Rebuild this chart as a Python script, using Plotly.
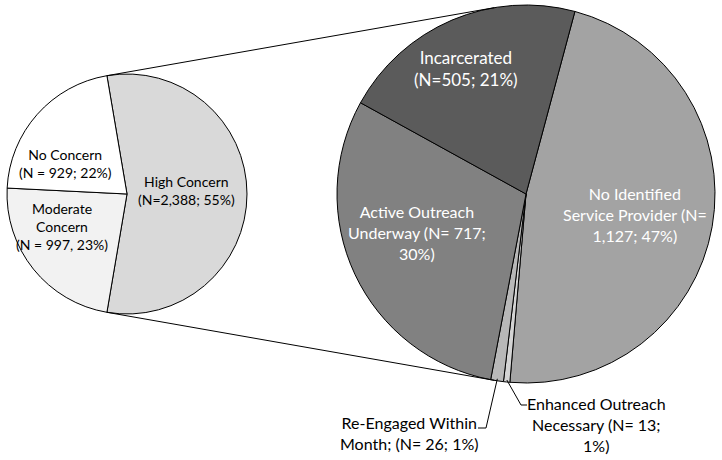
import math
import plotly.graph_objects as go

W, H = 722, 460

# ---- data ----
left_labels = ["High Concern", "Moderate Concern", "No Concern"]
left_values = [2388, 997, 929]
left_text = ["High Concern<br>(N=2,388; 55%)",
             "Moderate<br>Concern<br>(N = 997, 23%)",
             "No Concern<br>(N = 929; 22%)"]
left_colors = ["#d9d9d9", "#f2f2f2", "#ffffff"]

right_labels = ["No Identified Service Provider", "Enhanced Outreach Necessary",
                "Re-Engaged Within Month", "Active Outreach Underway", "Incarcerated"]
right_values = [1127, 13, 26, 717, 505]
right_text = ["No Identified<br>Service Provider (N=<br>1,127; 47%)",
              "Enhanced Outreach<br>Necessary (N= 13;<br>1%)",
              "Re-Engaged Within<br>Month; (N= 26; 1%)",
              "Active Outreach<br>Underway (N= 717;<br>30%)",
              "Incarcerated<br>(N=505; 21%)"]
right_colors = ["#a3a3a3", "#d4d4d4", "#b8b8b8", "#818181", "#5b5b5b"]
right_rotation = 15

FONT = "Lato"

# ---- geometry (pixels) ----
L_CX, L_CY, L_R = 127, 194, 120
R_CX, R_CY, R_R = 526, 194, 189


def dom(cx, cy, r):
    return dict(x=[(cx - r) / W, (cx + r) / W], y=[1 - (cy + r) / H, 1 - (cy - r) / H])


def pt(cx, cy, r, ang):
    a = math.radians(ang)
    return (cx + r * math.sin(a)) / W, 1 - (cy - r * math.cos(a)) / H


ltot = sum(left_values)
high_span = 360 * left_values[0] / ltot
left_rotation = 90 - high_span / 2

fig = go.Figure()
fig.add_trace(go.Pie(labels=left_labels, values=left_values, sort=False,
                     direction="clockwise", rotation=left_rotation,
                     marker=dict(colors=left_colors, line=dict(color="black", width=1)),
                     textinfo="none", hoverinfo="label+value", showlegend=False,
                     domain=dom(L_CX, L_CY, L_R)))
fig.add_trace(go.Pie(labels=right_labels, values=right_values, sort=False,
                     direction="clockwise", rotation=right_rotation,
                     marker=dict(colors=right_colors, line=dict(color="black", width=1)),
                     textinfo="none", hoverinfo="label+value", showlegend=False,
                     domain=dom(R_CX, R_CY, R_R)))

shapes = []
# connector lines between pies at the edges of the "High Concern" slice
for ang in (left_rotation, left_rotation + high_span):
    x0, y0 = pt(L_CX, L_CY, L_R, ang)
    x1, y1 = pt(R_CX, R_CY, R_R, ang)
    shapes.append(dict(type="line", xref="paper", yref="paper", x0=x0, y0=y0, x1=x1, y1=y1,
                       line=dict(color="black", width=1)))

# leader lines for the small slices
rtot = sum(right_values)
starts = []
acc = right_rotation
for v in right_values:
    starts.append(acc)
    acc += 360 * v / rtot
mid_enh = starts[1] + 180 * right_values[1] / rtot
mid_re = starts[2] + 180 * right_values[2] / rtot
ex, ey = pt(R_CX, R_CY, R_R - 2, mid_enh)
rx, ry = pt(R_CX, R_CY, R_R - 2, mid_re)
shapes.append(dict(type="path", xref="paper", yref="paper",
                   path=f"M {rx} {ry} L {486/W} {1-428/H} L {478/W} {1-428/H}",
                   line=dict(color="black", width=1)))
shapes.append(dict(type="path", xref="paper", yref="paper",
                   path=f"M {ex} {ey} L {521/W} {1-405/H} L {527/W} {1-405/H}",
                   line=dict(color="black", width=1)))

# label positions (pixels)
left_pos = [(186, 190), (62, 227), (65, 164)]
right_pos = [(635, 214), (596, 424), (409, 433), (417, 233), (466, 68)]
right_font_col = ["white", "black", "black", "white", "white"]
right_font_size = [16, 16, 16, 16, 17]

ann = []
for t, (px, py) in zip(left_text, left_pos):
    ann.append(dict(text=t, x=px / W, y=1 - py / H, xref="paper", yref="paper",
                    showarrow=False, align="center", xanchor="center", yanchor="middle",
                    font=dict(family=FONT, size=14, color="black")))
for t, (px, py), c, s in zip(right_text, right_pos, right_font_col, right_font_size):
    ann.append(dict(text=t, x=px / W, y=1 - py / H, xref="paper", yref="paper",
                    showarrow=False, align="center", xanchor="center", yanchor="middle",
                    font=dict(family=FONT, size=s, color=c)))

fig.update_layout(width=W, height=H, margin=dict(l=0, r=0, t=0, b=0),
                  paper_bgcolor="white", plot_bgcolor="white",
                  shapes=shapes, annotations=ann, font=dict(family=FONT))
fig.write_html("out.html", config={"displayModeBar": False},
               post_script="document.body.style.margin='0px';")
